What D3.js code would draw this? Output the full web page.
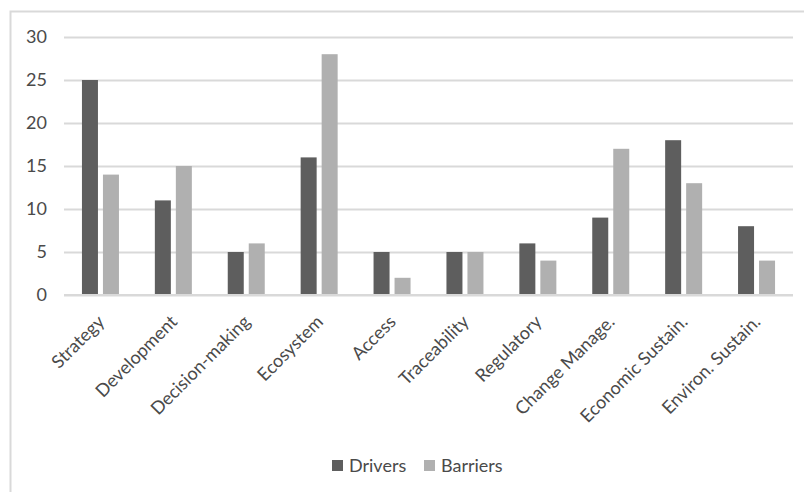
<!DOCTYPE html>
<html>
<head>
<meta charset="utf-8">
<script src="https://cdn.jsdelivr.net/npm/d3@7"></script>
<style>
  html, body { margin: 0; padding: 0; background: #fff; }
  svg { display: block; }
  text { font-family: Lato, "Open Sans", sans-serif; fill: #4a4a4a; }
</style>
</head>
<body>
<svg id="chart" width="804" height="492"></svg>
<script>
const categories = ["Strategy", "Development", "Decision-making", "Ecosystem", "Access",
  "Traceability", "Regulatory", "Change Manage.", "Economic Sustain.", "Environ. Sustain."];
const seriesNames = ["Drivers", "Barriers"];
const drivers  = [25, 11, 5, 16, 5, 5, 6, 9, 18, 8];
const barriers = [14, 15, 6, 28, 2, 5, 4, 17, 13, 4];
const yTicks = [0, 5, 10, 15, 20, 25, 30];
const colors = { Drivers: "#5e5e5e", Barriers: "#b0b0b0" };

const values = { Drivers: drivers, Barriers: barriers };
const rows = categories.map((c, i) => ({
  category: c,
  items: seriesNames.map(s => ({ series: s, value: values[s][i] }))
}));

const svg = d3.select("#chart");
const plot = { left: 64, right: 793, top: 37, bottom: 295 };

// chart area border (runs off the right and bottom edges)
svg.append("rect")
  .attr("x", 10.5).attr("y", 11.5)
  .attr("width", 820).attr("height", 500)
  .attr("fill", "#fff")
  .attr("stroke", "#d9d9d9").attr("stroke-width", 2);

const x0 = d3.scaleBand().domain(categories).range([plot.left, plot.right]).padding(0);
const step = 21;
const x1 = d3.scaleBand().domain(seriesNames)
  .range([0, x0.bandwidth()])
  .paddingInner(5 / step)
  .paddingOuter(((x0.bandwidth() - 2 * step + 5) / 2) / step);
const y = d3.scaleLinear().domain([0, 30]).range([plot.bottom, plot.top]);

// horizontal gridlines and value labels
const yAxis = d3.axisLeft(y).tickValues(yTicks).tickSize(-(plot.right - plot.left)).tickPadding(17);
const gy = svg.append("g").attr("transform", `translate(${plot.left},0)`).call(yAxis);
gy.select(".domain").remove();
gy.selectAll(".tick line").attr("stroke", "#d9d9d9").attr("stroke-width", 2);
gy.selectAll(".tick text")
  .attr("font-size", 18)
  .style("font-family", "Lato, sans-serif")
  .style("fill", "#4a4a4a");

// bars
const groups = svg.append("g").selectAll("g")
  .data(rows).join("g")
  .attr("transform", d => `translate(${x0(d.category)},0)`);
groups.selectAll("rect")
  .data(d => d.items).join("rect")
  .attr("x", d => x1(d.series))
  .attr("width", x1.bandwidth())
  .attr("y", d => y(d.value))
  .attr("height", d => y(0) - y(d.value))
  .attr("fill", d => colors[d.series]);

// baseline redrawn over bars
svg.append("line")
  .attr("x1", plot.left).attr("x2", plot.right)
  .attr("y1", y(0)).attr("y2", y(0))
  .attr("stroke", "#d9d9d9").attr("stroke-width", 2);

// rotated category labels
svg.append("g").selectAll("text")
  .data(categories).join("text")
  .attr("transform", d => `translate(${x0(d) + x0.bandwidth() / 2 + 5},323) rotate(-45)`)
  .attr("text-anchor", "end")
  .attr("font-size", 18)
  .text(d => d);

// legend
const legend = svg.append("g");
const legendX = { Drivers: 332, Barriers: 424 };
seriesNames.forEach(s => {
  legend.append("rect")
    .attr("x", legendX[s]).attr("y", 460)
    .attr("width", 11).attr("height", 11)
    .attr("fill", colors[s]);
  legend.append("text")
    .attr("x", legendX[s] + 17).attr("y", 471.5)
    .attr("font-size", 18)
    .text(s);
});
</script>
</body>
</html>
